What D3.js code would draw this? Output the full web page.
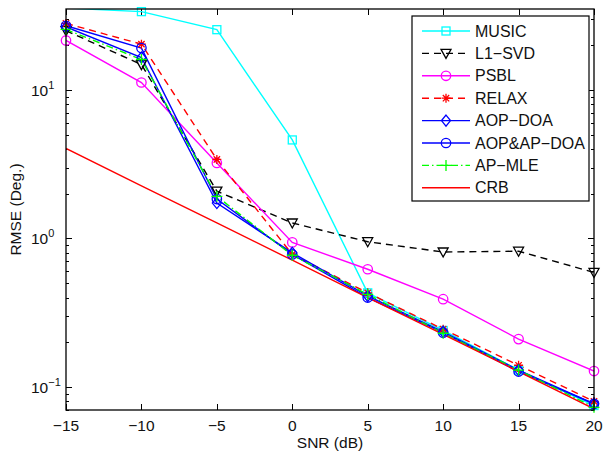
<!DOCTYPE html>
<html><head><meta charset="utf-8">
<script src="https://cdn.jsdelivr.net/npm/d3@7"></script>
<style>body{margin:0;background:#fff}svg{display:block}text{font-family:"Liberation Sans",Arial,sans-serif;fill:#111}</style>
</head><body>
<svg id="c" width="606" height="455"></svg>
<script>
const snr = [-15,-10,-5,0,5,10,15,20];
const music = [35.5, 33.6, 25.4, 4.6, 0.43, 0.24, 0.13, 0.075];
const l1svd = [25, 14.8, 2.08, 1.27, 0.95, 0.81, 0.82, 0.59];
const psbl = [21.5, 11.2, 3.22, 0.94, 0.62, 0.39, 0.21, 0.128];
const relax = [28, 20.3, 3.4, 0.78, 0.43, 0.245, 0.14, 0.08];
const aopdoa = [26.5, 16.5, 1.73, 0.80, 0.41, 0.235, 0.13, 0.077];
const aopap = [27, 19.1, 1.84, 0.78, 0.40, 0.232, 0.127, 0.077];
const apmle = [25.5, 16, 1.92, 0.77, 0.42, 0.23, 0.13, 0.073];
const crb = [4.03, 2.26, 1.27, 0.713, 0.40, 0.226, 0.127, 0.0713];
const xTicks = [-15,-10,-5,0,5,10,15,20];
const yTicks = [0.1, 1, 10];
const yExp = ["\u22121","0","1"];

const series = [
  {name:"MUSIC", v:music, color:"#00ffff", dash:null, marker:"square"},
  {name:"L1\u2212SVD", v:l1svd, color:"#000000", dash:"7,5", marker:"tri"},
  {name:"PSBL", v:psbl, color:"#ff00ff", dash:null, marker:"circle"},
  {name:"RELAX", v:relax, color:"#ff0000", dash:"7,5", marker:"star"},
  {name:"AOP\u2212DOA", v:aopdoa, color:"#0000ff", dash:null, marker:"diamond"},
  {name:"AOP&AP\u2212DOA", v:aopap, color:"#0000ff", dash:null, marker:"circle"},
  {name:"AP\u2212MLE", v:apmle, color:"#00ff00", dash:"7,3,1.5,3", marker:"plus"},
  {name:"CRB", v:crb, color:"#ff0000", dash:null, marker:null}
];

const L=66, R=594, T=9, B=410;
const x = d3.scaleLinear().domain([-15,20]).range([L,R]);
const y = d3.scaleLog().domain([0.07,35]).range([B,T]);
const svg = d3.select("#c");

const ticksG = svg.append("g").attr("stroke","#000").attr("stroke-width",1);
const minors = [];
for (const dec of [0.01,0.1,1,10]) for (let k=2;k<=9;k++){ const v=dec*k; if(v>=0.07&&v<=35) minors.push(v); }
minors.forEach(v=>{
  const yy=Math.round(y(v))+0.5;
  ticksG.append("line").attr("x1",L).attr("x2",L+3).attr("y1",yy).attr("y2",yy);
  ticksG.append("line").attr("x1",R).attr("x2",R-3).attr("y1",yy).attr("y2",yy);
});
yTicks.forEach(v=>{
  const yy=Math.round(y(v))+0.5;
  ticksG.append("line").attr("x1",L).attr("x2",L+6).attr("y1",yy).attr("y2",yy);
  ticksG.append("line").attr("x1",R).attr("x2",R-6).attr("y1",yy).attr("y2",yy);
});
xTicks.forEach(v=>{
  const xx=Math.round(x(v))+0.5;
  ticksG.append("line").attr("x1",xx).attr("x2",xx).attr("y1",B).attr("y2",B-6);
  ticksG.append("line").attr("x1",xx).attr("x2",xx).attr("y1",T).attr("y2",T+6);
});

xTicks.forEach(v=>{
  svg.append("text").attr("x",x(v)).attr("y",431).attr("text-anchor","middle")
    .attr("font-size",15.5).text(v<0?"\u2212"+Math.abs(v):String(v));
});
yTicks.forEach((v,i)=>{
  const t=svg.append("text").attr("x",31).attr("y",y(v)+6).attr("font-size",15.5);
  t.append("tspan").text("10");
  t.append("tspan").attr("dy",-7).attr("font-size",11).text(yExp[i]);
});
svg.append("text").attr("x",(L+R)/2).attr("y",448).attr("text-anchor","middle").attr("font-size",15.5).text("SNR (dB)");
svg.append("text").attr("transform",`translate(21,${(T+B)/2}) rotate(-90)`).attr("text-anchor","middle").attr("font-size",15.5).text("RMSE (Deg.)");

function drawMarker(g, type, cx, cy, color){
  if(!type) return;
  const s = g.append("g").attr("fill","none").attr("stroke",color).attr("stroke-width",1.3);
  if(type==="square") s.append("rect").attr("x",cx-4).attr("y",cy-4).attr("width",8).attr("height",8);
  else if(type==="circle") s.append("circle").attr("cx",cx).attr("cy",cy).attr("r",4.7);
  else if(type==="tri") s.append("path").attr("d",`M${cx-5},${cy-4}L${cx+5},${cy-4}L${cx},${cy+5}Z`);
  else if(type==="diamond") s.append("path").attr("d",`M${cx},${cy-5.5}L${cx+4.5},${cy}L${cx},${cy+5.5}L${cx-4.5},${cy}Z`);
  else if(type==="plus") s.append("path").attr("d",`M${cx-5.5},${cy}L${cx+5.5},${cy}M${cx},${cy-5.5}L${cx},${cy+5.5}`);
  else if(type==="star"){
    const r=4.5, d=r*0.707;
    s.append("path").attr("d",`M${cx-r},${cy}L${cx+r},${cy}M${cx},${cy-r}L${cx},${cy+r}M${cx-d},${cy-d}L${cx+d},${cy+d}M${cx-d},${cy+d}L${cx+d},${cy-d}`);
  }
}

svg.append("clipPath").attr("id","clip").append("rect").attr("x",L).attr("y",T).attr("width",R-L).attr("height",B-T);
const lineG = svg.append("g").attr("clip-path","url(#clip)");
const markG = svg.append("g");
const line = d3.line().x((d,i)=>x(snr[i])).y(d=>y(d));
const [y0,y1] = y.domain();
series.forEach(s=>{
  lineG.append("path").datum(s.v).attr("d",line).attr("fill","none")
    .attr("stroke",s.color).attr("stroke-width",1.4).attr("stroke-dasharray",s.dash);
  s.v.forEach((v,i)=>{ if(v>=y0 && v<=y1) drawMarker(markG,s.marker,x(snr[i]),y(v),s.color); });
});

svg.append("rect").attr("x",L).attr("y",T).attr("width",R-L).attr("height",B-T)
  .attr("fill","none").attr("stroke","#000").attr("stroke-width",1.3);

const lg = svg.append("g");
lg.append("rect").attr("x",412).attr("y",16).attr("width",177).attr("height",185)
  .attr("fill","#fff").attr("stroke","#000").attr("stroke-width",1.2);
series.forEach((s,i)=>{
  const yy = 31 + i*22.4;
  lg.append("line").attr("x1",422).attr("x2",470).attr("y1",yy).attr("y2",yy)
    .attr("stroke",s.color).attr("stroke-width",1.4).attr("stroke-dasharray",s.dash);
  drawMarker(lg,s.marker,446,yy,s.color);
  lg.append("text").attr("x",475).attr("y",yy+5.5).attr("font-size",16).text(s.name);
});
</script>
</body></html>
